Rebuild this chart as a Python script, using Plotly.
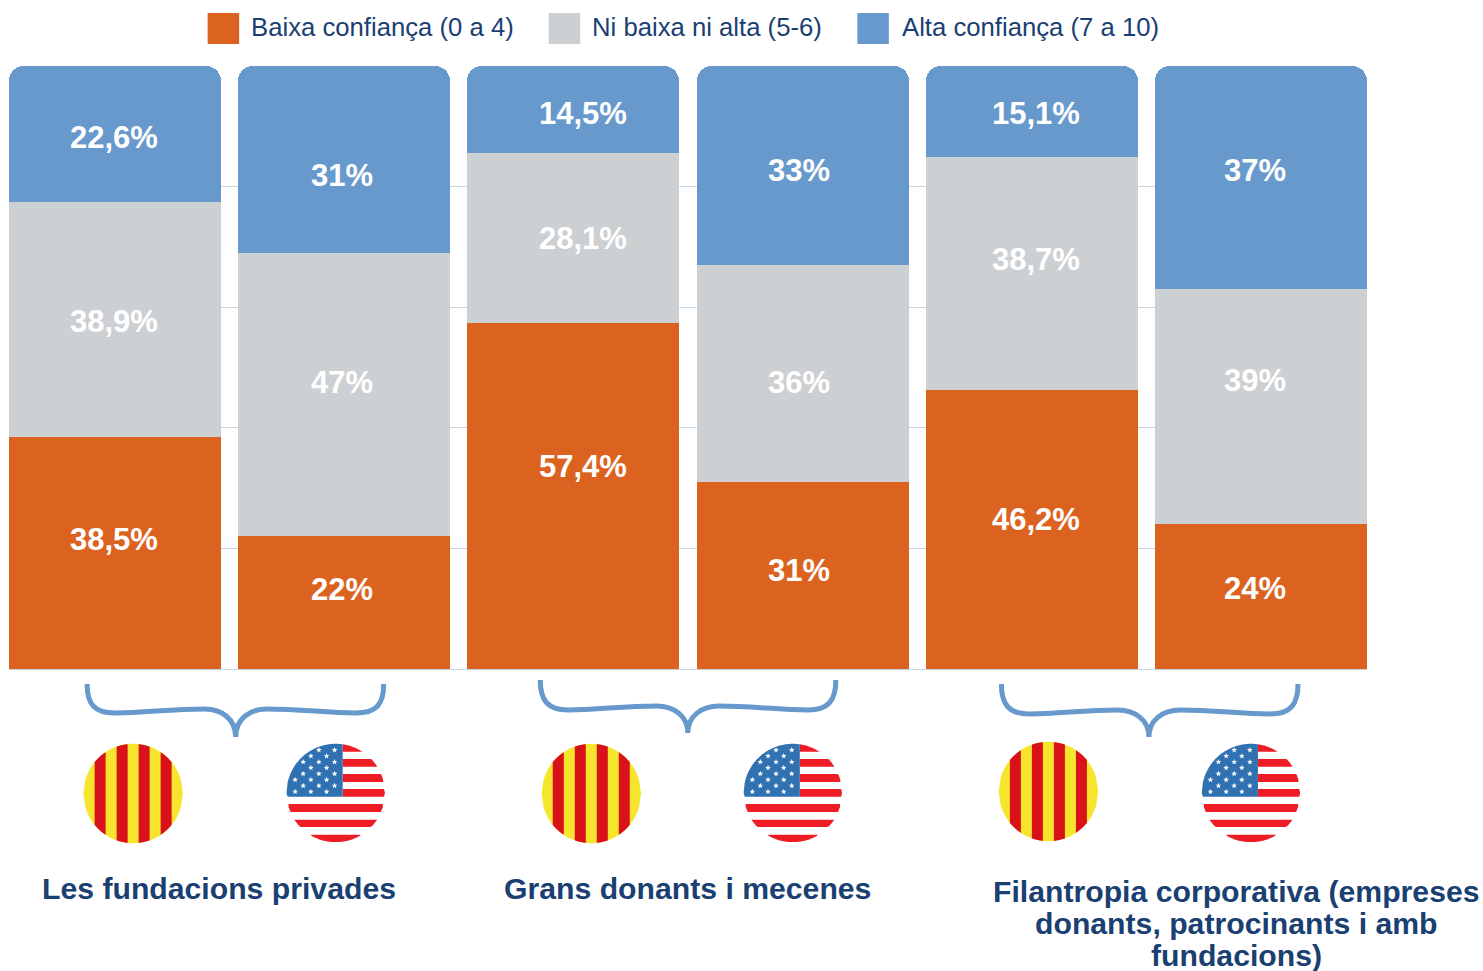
import math
import plotly.graph_objects as go

# ---------- data ----------
bars = ["Fundacions CAT", "Fundacions USA", "Donants CAT", "Donants USA", "Empreses CAT", "Empreses USA"]
baixa = [38.5, 22, 57.4, 31, 46.2, 24]
mitja = [38.9, 47, 28.1, 36, 38.7, 39]
alta = [22.6, 31, 14.5, 33, 15.1, 37]
baixa_labels = ["38,5%", "22%", "57,4%", "31%", "46,2%", "24%"]
mitja_labels = ["38,9%", "47%", "28,1%", "36%", "38,7%", "39%"]
alta_labels = ["22,6%", "31%", "14,5%", "33%", "15,1%", "37%"]
legend_names = ["Baixa confiança (0 a 4)", "Ni baixa ni alta (5-6)", "Alta confiança (7 a 10)"]

# ---------- style ----------
ORANGE, GRAY, BLUE = "#dc631f", "#ccd0d3", "#6799cc"
NAVY = "#1a4072"
GRID = "#ccd6e5"
W, H = 1483, 971
L, R, T, B = 9.4, 1367, 66, 669
FONT = "Liberation Sans"

def fx(px):
    return (px - L) / (R - L)

def fy(py):
    return (B - py) / (B - T)

def poly(points):
    return "M " + " L ".join(f"{fx(x):.5f} {fy(y):.5f}" for x, y in points) + " Z"

def clipped_rect(cx, cy, r, x0, x1, y0, y1):
    x0, x1 = max(x0, cx - r), min(x1, cx + r)
    upper, lower = [], []
    n = 48
    for i in range(n + 1):
        x = x0 + (x1 - x0) * i / n
        d = math.sqrt(max(r * r - (x - cx) ** 2, 0))
        top, bot = max(y0, cy - d), min(y1, cy + d)
        if top <= bot:
            upper.append((x, top))
            lower.append((x, bot))
    return poly(upper + lower[::-1]) if upper else ""

def star(x, y, r):
    pts = []
    for k in range(10):
        a = -math.pi / 2 + k * math.pi / 5
        rad = r if k % 2 == 0 else r * 0.42
        pts.append((x + rad * math.cos(a), y + rad * math.sin(a)))
    return poly(pts)

shapes = []

def filled(path, color):
    shapes.append(dict(type="path", xref="paper", yref="paper", path=path,
                       fillcolor=color, line=dict(width=0), layer="above"))

def flag_cat(cx, cy, r=49.7):
    filled(clipped_rect(cx, cy, r, cx - r, cx + r, cy - r, cy + r), "#f6e52c")
    for off in (-38.5, -16.5, 5.5, 27.5):
        filled(clipped_rect(cx, cy, r, cx + off, cx + off + 11, cy - r, cy + r), "#d81218")

def flag_usa(cx, cy, r=49.2):
    canton_x = cx + 7
    canton_y = cy + 3.7
    stripes = [(-49, -41.3), (-34, -26.3), (-19, -11), (-4, 3.7), (11, 19), (26.7, 34), (41.7, 49)]
    for a, b in stripes:
        left = canton_x if a < 3 else cx - r
        filled(clipped_rect(cx, cy, r, left, cx + r, cy + a, cy + b), "#ee1c25")
    filled(clipped_rect(cx, cy, r, cx - r, canton_x, cy - r, canton_y), "#3071b2")
    paths = []
    for row in range(8):
        sy = cy - 43 + row * 5.95
        start = cx - 32.5 if row % 2 == 0 else cx - 40.5
        for col in range(6):
            sx = start + col * 15.7
            if sx <= canton_x - 2 and math.hypot(sx - cx, sy - cy) < r - 2:
                paths.append(star(sx, sy, 3.0))
    filled(" ".join(paths), "#ffffff")

def brace(x0, xm, x1, ytop, ybot, ytip):
    mid = ybot - 4
    seg = [
        (x0, ytop),
        (x0, ytop + 20), (x0 + 7, ybot), (x0 + 28, ybot),
        (x0 + 58, ybot), (xm - 66, mid), (xm - 31, mid),
        (xm - 14, mid), (xm, mid + 10), (xm, ytip),
        (xm, mid + 10), (xm + 14, mid), (xm + 31, mid),
        (xm + 66, mid), (x1 - 58, ybot), (x1 - 28, ybot),
        (x1 - 7, ybot), (x1, ytop + 20), (x1, ytop),
    ]
    p = f"M {fx(seg[0][0]):.5f} {fy(seg[0][1]):.5f}"
    for i in range(1, len(seg), 3):
        p += " C " + " ".join(f"{fx(a):.5f} {fy(b):.5f}" for a, b in seg[i:i + 3])
    shapes.append(dict(type="path", xref="paper", yref="paper", path=p,
                       line=dict(color=BLUE, width=5), layer="above"))

brace(87.5, 236, 384, 684, 713, 737)
brace(540.5, 688, 836, 680, 710, 733)
brace(1001.5, 1149, 1298, 684, 714, 737)
for c in [(133.5, 793.5), (591.5, 793.5), (1048.5, 791.5)]:
    flag_cat(*c)
for c in [(336, 793), (793, 793), (1251, 793)]:
    flag_usa(*c)

# ---------- legend drawn by hand ----------
annotations = []

def text(px, py, s, size, color, bold=False, anchor="center"):
    annotations.append(dict(
        xref="paper", yref="paper", x=fx(px), y=fy(py), text=f"<b>{s}</b>" if bold else s,
        showarrow=False, xanchor=anchor, yanchor="middle",
        font=dict(family=FONT, size=size, color=color), align="center", borderpad=0))

for name, color, sx, tx in zip(legend_names, (ORANGE, GRAY, BLUE), (208, 549, 857.5), (250, 591, 901)):
    shapes.append(dict(type="rect", xref="paper", yref="paper", x0=fx(sx), x1=fx(sx + 31.5),
                       y0=fy(44), y1=fy(13), fillcolor=color, line=dict(width=0), layer="above"))
    text(tx, 27, name, 25.7, NAVY, anchor="left")

# ---------- group titles ----------
text(219, 888, "Les fundacions privades", 30.2, NAVY, True)
text(687.5, 888, "Grans donants i mecenes", 30.2, NAVY, True)
text(1237, 891.7, "Filantropia corporativa (empreses", 30.2, NAVY, True)
text(1237, 923.7, "donants, patrocinants i amb", 30.2, NAVY, True)
text(1237, 955, "fundacions)", 30.2, NAVY, True)

# ---------- bars ----------
positions = list(range(len(bars)))
fig = go.Figure()
for name, vals, color in zip(legend_names, (baixa, mitja, alta), (ORANGE, GRAY, BLUE)):
    fig.add_bar(x=positions, y=vals, name=name, width=212 / 229, marker=dict(color=color, line=dict(width=0)),
                hoverinfo="skip", showlegend=False)

# the value labels sit off-centre in the original: pixel nudges from each segment's middle
x_nudge = [-1.5, -2.5, 9.5, -3.5, 4.5, -5.5]
y_nudge_baixa = [13, 13, 29.5, 5, 10, 8]
y_nudge_mitja = [-2, 12, -0.5, -9, 14, 26]
y_nudge_alta = [-3.5, -16, -4, -5, -2, 7]
for i in positions:
    base = 0
    for vals, labels, nudge in ((baixa, baixa_labels, y_nudge_baixa), (mitja, mitja_labels, y_nudge_mitja),
                                (alta, alta_labels, y_nudge_alta)):
        annotations.append(dict(
            x=i, y=base + vals[i] / 2, xref="x", yref="y", text=f"<b>{labels[i]}</b>", showarrow=False,
            xshift=x_nudge[i], yshift=nudge[i], font=dict(family=FONT, size=31, color="#ffffff")))
        base += vals[i]

half = 212 / 229 / 2
fig.update_layout(
    width=W, height=H, barmode="stack", barcornerradius=15, bargap=0,
    margin=dict(l=L, r=W - R, t=T, b=H - B, pad=0, autoexpand=False),
    paper_bgcolor="#ffffff", plot_bgcolor="#ffffff", showlegend=False,
    font=dict(family=FONT), shapes=shapes, annotations=annotations,
    xaxis=dict(range=[-half, 5 + half], showticklabels=False, ticks="", showgrid=False, zeroline=False,
               showline=True, linecolor="#c6d2e3", linewidth=1, fixedrange=True),
    yaxis=dict(range=[0, 100], tick0=0, dtick=20, showticklabels=False, ticks="", showgrid=True,
               gridcolor=GRID, gridwidth=1, zeroline=False, showline=False, fixedrange=True),
)

fig.write_html("out.html", config={"displayModeBar": False},
               post_script="document.body.style.margin='0';document.body.style.overflow='hidden';")
